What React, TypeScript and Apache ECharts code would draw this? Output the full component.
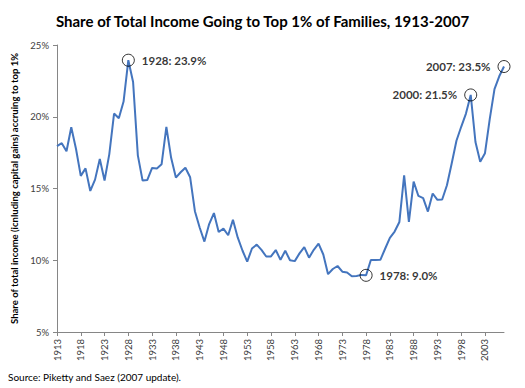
import React, { useEffect, useRef } from "react";
import * as echarts from "echarts";

const years: string[] = [];
for (let y = 1913; y <= 2007; y++) years.push(String(y));

const topShare: number[] = [
  17.96, 18.16, 17.6, 19.27, 17.75, 15.88, 16.4, 14.83, 15.62, 17.05,
  15.56, 17.4, 20.22, 19.9, 21.06, 23.94, 22.42, 17.31, 15.55, 15.6,
  16.43, 16.4, 16.69, 19.29, 17.14, 15.76, 16.13, 16.45, 15.78, 13.42,
  12.28, 11.3, 12.52, 13.29, 11.97, 12.2, 11.74, 12.82, 11.59, 10.68,
  9.9, 10.82, 11.09, 10.72, 10.26, 10.27, 10.71, 10.03, 10.66, 10.0,
  9.94, 10.48, 10.92, 10.18, 10.73, 11.16, 10.4, 9.03, 9.39, 9.6,
  9.2, 9.15, 8.88, 8.9, 8.98, 8.95, 10.02, 10.02, 10.03, 10.8,
  11.56, 12.0, 12.67, 15.92, 12.67, 15.48, 14.48, 14.33, 13.39, 14.65,
  14.21, 14.23, 15.23, 16.74, 18.33, 19.3, 20.22, 21.52, 18.24, 16.87,
  17.46, 19.84, 21.92, 22.82, 23.5,
];

const annoYears = ["1928", "1978", "2000", "2007"];
const annoLabels = ["1928: 23.9%", "1978: 9.0%", "2000: 21.5%", "2007: 23.5%"];
const annoPositions = ["right", "right", "left", "left"];

const yTicks = [5, 10, 15, 20, 25];

const FONT = "Lato, 'Liberation Sans', sans-serif";

export default function App() {
  const ref = useRef<HTMLDivElement>(null);
  useEffect(() => {
    if (!ref.current) return;
    const chart = echarts.init(ref.current, null, { renderer: "svg" });
    const annoData = annoYears.map((y, i) => ({
      value: [y, topShare[years.indexOf(y)]],
      label: {
        show: true,
        formatter: annoLabels[i],
        position: annoPositions[i] as any,
        distance: 7,
      },
    }));
    chart.setOption({
      animation: false,
      backgroundColor: "#ffffff",
      textStyle: { fontFamily: FONT },
      title: {
        text: "Share of Total Income Going to Top 1% of Families, 1913-2007",
        left: "center",
        top: 8,
        textStyle: { fontFamily: FONT, fontSize: 15, fontWeight: "bold", color: "#000" },
      },
      grid: { left: 57, right: 21, top: 45, bottom: 56, containLabel: false },
      graphic: [
        {
          type: "text",
          left: 8,
          top: 372,
          style: {
            text: "Source: Piketty and Saez (2007 update).",
            fontFamily: FONT,
            fontSize: 10,
            fill: "#000",
          },
        },
      ],
      xAxis: {
        type: "category",
        data: years,
        boundaryGap: false,
        axisLine: { lineStyle: { color: "#868686" } },
        axisTick: { interval: 4, length: 4, lineStyle: { color: "#868686" } },
        axisLabel: {
          interval: 4,
          rotate: 90,
          fontFamily: FONT,
          fontSize: 9.5,
          color: "#404040",
          margin: 7,
        },
        splitLine: { show: false },
      },
      yAxis: {
        type: "value",
        min: yTicks[0],
        max: yTicks[yTicks.length - 1],
        interval: 5,
        name: "Share of total income (icnluding capital gains) accruing to top 1%",
        nameLocation: "middle",
        nameRotate: 90,
        nameGap: 38,
        nameTextStyle: { fontFamily: FONT, fontSize: 9.5, fontWeight: "bold", color: "#000" },
        axisLine: { show: true, lineStyle: { color: "#868686" } },
        axisTick: { show: true, length: 4, lineStyle: { color: "#868686" } },
        axisLabel: {
          formatter: "{value}%",
          fontFamily: FONT,
          fontSize: 9.5,
          color: "#404040",
          margin: 8,
        },
        splitLine: { show: false },
      },
      series: [
        {
          type: "line",
          data: topShare,
          showSymbol: false,
          symbol: "none",
          lineStyle: { color: "#4475be", width: 2 },
          z: 2,
        },
        {
          type: "scatter",
          data: annoData,
          symbol: "circle",
          symbolSize: 12,
          itemStyle: { color: "rgba(0,0,0,0)", borderColor: "#000", borderWidth: 1 },
          label: {
            fontFamily: FONT,
            fontSize: 11.5,
            fontWeight: "bold",
            color: "#000",
          },
          z: 3,
        },
      ],
    });
    return () => chart.dispose();
  }, []);
  return (
    <div
      ref={ref}
      style={{ position: "absolute", left: 0, top: 0, width: 525, height: 388 }}
    />
  );
}
